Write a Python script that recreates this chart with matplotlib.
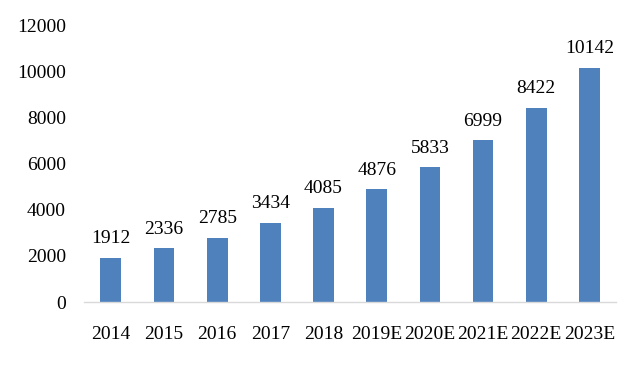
import matplotlib.pyplot as plt

years = ["2014", "2015", "2016", "2017", "2018", "2019E", "2020E", "2021E", "2022E", "2023E"]
values = [1912, 2336, 2785, 3434, 4085, 4876, 5833, 6999, 8422, 10142]
yticks = [0, 2000, 4000, 6000, 8000, 10000, 12000]

plt.rcParams['font.family'] = ['Liberation Serif', 'DejaVu Serif']

fig = plt.figure(figsize=(6.28, 3.65), dpi=100)
ax = fig.add_axes([0.134, 0.1726, 0.847, 0.7589])

x = range(len(years))
bars = ax.bar(x, values, width=0.39, color="#4F81BD")

# data labels above bars
for bar, v in zip(bars, values):
    ax.annotate(str(v), (bar.get_x() + bar.get_width() / 2, v),
                xytext=(0, 7.5), textcoords="offset points",
                ha="center", va="bottom", fontsize=14, color="black")

ax.set_xlim(-0.5, len(years) - 0.5)
ax.set_ylim(0, 12000)
ax.set_yticks(yticks)
ax.set_xticks(list(x))
ax.set_xticklabels(years)

for s in ["top", "right", "left"]:
    ax.spines[s].set_visible(False)
ax.spines["bottom"].set_color("#D9D9D9")
ax.spines["bottom"].set_linewidth(1)

ax.tick_params(axis="both", length=0, labelsize=14, colors="black")
ax.tick_params(axis="x", pad=17)
ax.tick_params(axis="y", pad=13)

fig.savefig("out.png", dpi=100)
